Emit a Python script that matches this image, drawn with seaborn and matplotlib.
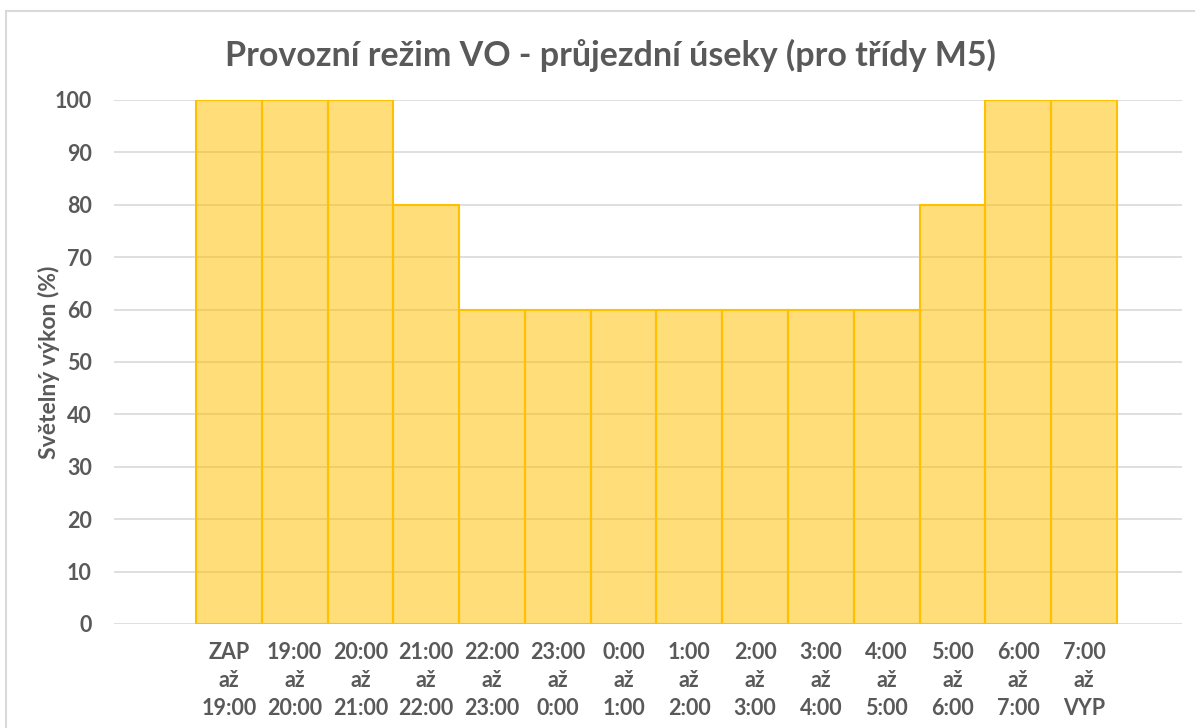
import matplotlib
matplotlib.use("Agg")
import matplotlib.pyplot as plt
import seaborn as sns
import pandas as pd
from matplotlib.patches import Rectangle

categories = [
    "ZAP\naž\n19:00", "19:00\naž\n20:00", "20:00\naž\n21:00", "21:00\naž\n22:00",
    "22:00\naž\n23:00", "23:00\naž\n0:00", "0:00\naž\n1:00", "1:00\naž\n2:00",
    "2:00\naž\n3:00", "3:00\naž\n4:00", "4:00\naž\n5:00", "5:00\naž\n6:00",
    "6:00\naž\n7:00", "7:00\naž\nVYP",
]
values = [100, 100, 100, 80, 60, 60, 60, 60, 60, 60, 60, 80, 100, 100]
y_ticks = [0, 10, 20, 30, 40, 50, 60, 70, 80, 90, 100]
title = "Provozní režim VO - průjezdní úseky (pro třídy M5)"
y_label = "Světelný výkon (%)"

sns.set_style("white")
plt.rcParams["font.family"] = ["Lato", "DejaVu Sans"]

df = pd.DataFrame({"cat": categories, "val": values})

fig = plt.figure(figsize=(11.95, 7.28), dpi=100)
ax = fig.add_axes([114 / 1195, 1 - 624 / 728, (1182 - 114) / 1195, (624 - 100) / 728])

sns.barplot(data=df, x="cat", y="val", ax=ax, width=1.0, saturation=1,
            color="#FFC000", alpha=0.53, edgecolor="none", linewidth=0, zorder=2)
for p in list(ax.patches):
    r = Rectangle((p.get_x(), p.get_y()), p.get_width(), p.get_height(),
                  fill=False, edgecolor="#FFC000", linewidth=1.5, zorder=3)
    ax.add_patch(r)

ax.set_xlim(-1.746, 14.49)
ax.set_ylim(0, 100)
ax.set_yticks(y_ticks)
ax.yaxis.grid(True, color="#D9D9D9", linewidth=1.2, zorder=0)
ax.set_axisbelow(True)
for s in ax.spines.values():
    s.set_visible(False)
ax.tick_params(axis="both", length=0)
ax.tick_params(axis="y", pad=16)
ax.tick_params(axis="x", pad=13)
for lbl in ax.get_yticklabels():
    lbl.set_fontsize(15.5)
    lbl.set_fontweight("bold")
    lbl.set_color("#595959")
for lbl in ax.get_xticklabels():
    lbl.set_fontsize(15.5)
    lbl.set_fontweight("bold")
    lbl.set_color("#595959")
    lbl.set_linespacing(1.4)
ax.set_xlabel("")
ax.set_ylabel(y_label, fontsize=16.5, fontweight="bold", color="#595959", labelpad=-4)

fig.text(610 / 1195, 1 - 55 / 728, title, ha="center", va="center",
         fontsize=24.5, fontweight="bold", color="#595959")

fig.patches.append(Rectangle((6 / 1195, -0.05), 1.1, 1 - 11 / 728 + 0.05,
                             transform=fig.transFigure, fill=False,
                             edgecolor="#D9D9D9", linewidth=1.5, zorder=10))

fig.savefig("out.png", dpi=100)
